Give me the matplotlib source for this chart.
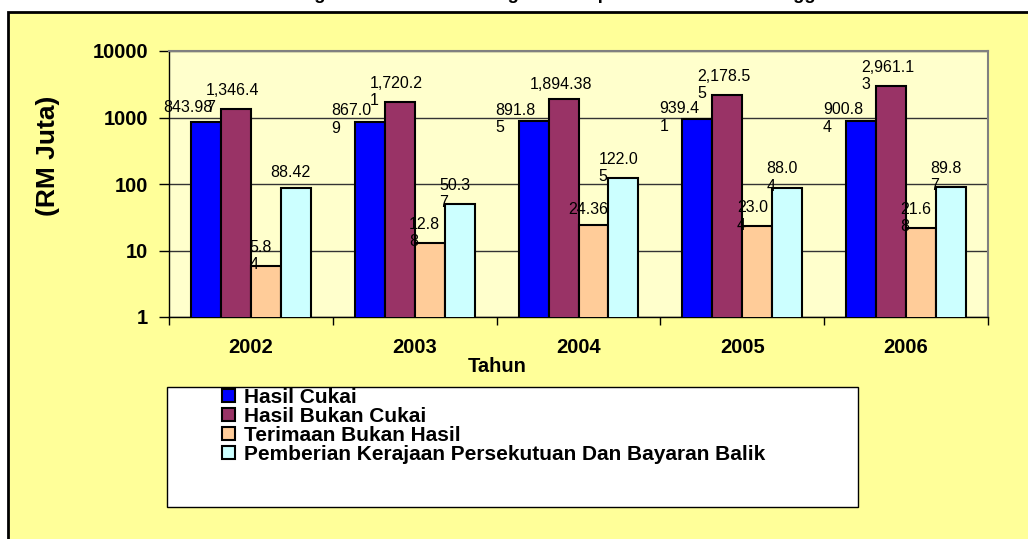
import numpy as np
import matplotlib.pyplot as plt
from matplotlib.patches import Rectangle
from matplotlib.ticker import NullLocator

plt.rcParams['font.family'] = ['Liberation Sans', 'DejaVu Sans']

# data (RM Juta)
years = ['2002', '2003', '2004', '2005', '2006']
series_names = ['Hasil Cukai', 'Hasil Bukan Cukai', 'Terimaan Bukan Hasil',
                'Pemberian Kerajaan Persekutuan Dan Bayaran Balik']
hasil_cukai = [843.98, 867.09, 891.85, 939.41, 900.84]
hasil_bukan_cukai = [1346.47, 1720.21, 1894.38, 2178.55, 2961.13]
terimaan_bukan_hasil = [5.84, 12.88, 24.36, 23.04, 21.68]
pemberian = [88.42, 50.37, 122.05, 88.04, 89.87]

# data labels as they appear (wrapped in the original)
lbl_cukai = ['843.98', '867.0\n9', '891.8\n5', '939.4\n1', '900.8\n4']
lbl_bukan_cukai = ['1,346.4\n7', '1,720.2\n1', '1,894.38', '2,178.5\n5', '2,961.1\n3']
lbl_terimaan = ['5.8\n4', '12.8\n8', '24.36', '23.0\n4', '21.6\n8']
lbl_pemberian = ['88.42', '50.3\n7', '122.0\n5', '88.0\n4', '89.8\n7']

series = [hasil_cukai, hasil_bukan_cukai, terimaan_bukan_hasil, pemberian]
labels = [lbl_cukai, lbl_bukan_cukai, lbl_terimaan, lbl_pemberian]
colors = ['#0000FF', '#993366', '#FFCC99', '#CCFFFF']
label_dx = [-18, -3, -5, -5]      # px, horizontal shift of data labels
label_dy2 = [2, 10, 10, 10]       # px above bar top for two-line labels

W, H = 1028, 539
PT = 0.72  # points per pixel at dpi 100

fig = plt.figure(figsize=(W / 100, H / 100), dpi=100, facecolor='white')

# outer chart frame
frame = Rectangle((8 / W, -0.1), 1.2, (H - 12) / H + 0.1, transform=fig.transFigure,
                  facecolor='#FFFF99', edgecolor='black', linewidth=2, zorder=-1)
fig.patches.append(frame)

ax = fig.add_axes([169 / W, 1 - 317 / H, (988 - 169) / W, (317 - 51) / H])
ax.set_facecolor('#FFFFCC')
ax.set_yscale('log')
ax.set_ylim(1, 10000)
ax.set_xlim(-0.5, 4.5)

x = np.arange(len(years))
w = 0.183
handles = []
for j, vals in enumerate(series):
    bc = ax.bar(x + (j - 1.5) * w, vals, w, color=colors[j], edgecolor='black',
                linewidth=1.5, zorder=3, label=series_names[j])
    handles.append(bc)
    for i, v in enumerate(vals):
        txt = labels[j][i]
        dy = label_dy2[j] if '\n' in txt else 15
        ax.annotate(txt, xy=(x[i] + (j - 1.5) * w, v),
                    xytext=(label_dx[j] * PT, dy * PT), textcoords='offset points',
                    ha='center', va='center', multialignment='left',
                    fontsize=11.5, linespacing=1.2, zorder=4)

ax.yaxis.grid(True, which='major', color='#333333', linewidth=1)
ax.set_axisbelow(True)

ax.set_yticks([1, 10, 100, 1000, 10000], ['1', '10', '100', '1000', '10000'],
              fontsize=14.5, fontweight='bold')
ax.yaxis.set_minor_locator(NullLocator())
ax.tick_params(axis='y', length=7, width=1, pad=8)

ax.set_xticks(x, years, fontsize=14.5, fontweight='bold')
ax.set_xticks(np.arange(-0.5, 5, 1), minor=True)
ax.tick_params(axis='x', which='major', length=0, pad=15)
ax.tick_params(axis='x', which='minor', length=6, width=1)

for s in ['top', 'right']:
    ax.spines[s].set_color('#808080')
    ax.spines[s].set_linewidth(1.5)
for s in ['left', 'bottom']:
    ax.spines[s].set_color('black')
    ax.spines[s].set_linewidth(1)

fig.text(48 / W, 1 - 156 / H, '(RM Juta)', rotation=90, ha='center', va='center',
         fontsize=19, fontweight='bold')
fig.text(497 / W, 1 - 367 / H, 'Tahun', ha='center', va='center',
         fontsize=14.5, fontweight='bold')

# title sits above the visible area, only descenders show
fig.text(224 / W, 1 + 1 / H, 'Perbandingan Jumlah Hasil Mengikut Komponen Tahun 2002 Hingga 2006',
         ha='left', va='baseline', fontsize=13.3, fontweight='bold')

# legend box
lbox = Rectangle((167 / W, 1 - 507 / H), (858 - 167) / W, (507 - 387) / H,
                 transform=fig.transFigure, facecolor='white', edgecolor='black',
                 linewidth=1, zorder=1)
fig.patches.append(lbox)
fig.legend(handles, series_names, loc='upper left',
           bbox_to_anchor=(222 / W, 1 - 388 / H), bbox_transform=fig.transFigure,
           frameon=False, prop={'size': 15, 'weight': 'bold'},
           handlelength=0.62, handleheight=0.62, handletextpad=0.43,
           labelspacing=0.0, borderpad=0, borderaxespad=0)

fig.savefig('out.png', dpi=100, facecolor='white')
